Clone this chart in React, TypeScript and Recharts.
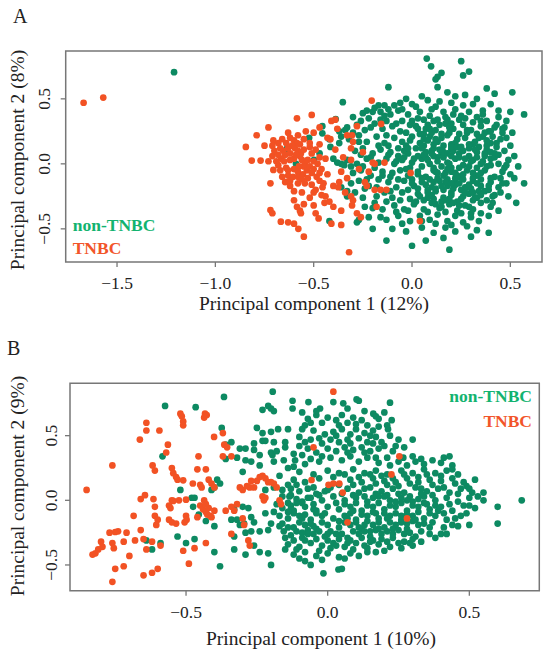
import React from "react";
import { ScatterChart, Scatter, XAxis, YAxis, ReferenceArea } from "recharts";

// ---------- Panel A data (PC1 12%, PC2 8%) ----------
const nonTnbcA: [number, number][] = [
  [-1.21, 0.705],
  [-0.352, 0.474], [-0.388, 0.345], [-0.456, 0.29], [-0.456, 0.235], [-0.523, 0.2], [-0.637, 0.116],
  [-0.42, 0.19], [-0.415, 0.13], [-0.47, 0.08], [-0.498, 0.03], [-0.59, 0.0], [-0.37, 0.25], [-0.36, 0.21],
  [-0.37, 0.16], [-0.34, 0.26], [-0.4, 0.04], [-0.38, 0.01], [-0.36, 0.0], [-0.345, -0.01], [-0.36, -0.18],
  [-0.33, -0.21], [-0.33, -0.25], [-0.42, -0.44],
  [0.075, 0.81], [0.25, 0.79], [0.097, 0.75], [0.29, 0.71], [0.26, 0.68], [0.15, 0.7], [0.13, 0.67], [0.12, 0.65],
  [0.13, 0.59], [-0.12, 0.59], [0.38, 0.58], [0.42, 0.54], [0.51, 0.55], [0.5, 0.4], [0.57, 0.38], [0.47, 0.28],
  [0.51, 0.24], [0.57, -0.15], [0.53, -0.3], [0.49, -0.25], [0.52, -0.11], [0.19, -0.66], [0.07, -0.59],
  [0.0, -0.63], [-0.13, -0.59], [-0.2, -0.5], [0.16, -0.57], [0.3, -0.56], [0.39, -0.53], [-0.27, -0.43], [-0.28, -0.45],
  [0.18, 0.55], [0.22, 0.52], [0.05, 0.52], [0.27, 0.53], [0.33, 0.5], [0.31, 0.46], [0.4, 0.46], [0.36, 0.41],
  [0.44, 0.41], [0.08, 0.49], [0.14, 0.48], [0.2, 0.47], [0.26, 0.45], [-0.03, 0.5], [-0.09, 0.45], [-0.14, 0.45],
  [-0.17, 0.45], [-0.06, 0.47], [0.0, 0.46], [-0.2, 0.4], [0.12, 0.44], [0.02, 0.44],
  [-0.3, 0.36], [-0.25, 0.39], [-0.22, 0.35], [-0.16, 0.4], [-0.11, 0.38], [-0.07, 0.41], [-0.02, 0.38], [0.04, 0.4],
  [0.09, 0.37], [0.16, 0.4], [0.21, 0.38], [0.24, 0.34], [0.29, 0.4], [0.33, 0.36], [0.38, 0.33], [0.44, 0.36],
  [0.48, 0.33], [0.06, 0.34], [-0.05, 0.33], [-0.13, 0.33],
  [-0.33, 0.28], [-0.28, 0.3], [-0.24, 0.26], [-0.19, 0.31], [-0.15, 0.27], [-0.1, 0.29], [-0.06, 0.25], [-0.01, 0.3],
  [0.03, 0.27], [0.08, 0.3], [0.12, 0.26], [0.17, 0.31], [0.21, 0.27], [0.26, 0.3], [0.3, 0.26], [0.35, 0.29],
  [0.39, 0.25], [0.43, 0.3], [0.46, 0.24], [0.41, 0.21],
  [-0.32, 0.19], [-0.27, 0.22], [-0.23, 0.17], [-0.18, 0.21], [-0.14, 0.16], [-0.09, 0.2], [-0.05, 0.17], [0.0, 0.21],
  [0.04, 0.16], [0.09, 0.21], [0.13, 0.17], [0.18, 0.22], [0.22, 0.16], [0.27, 0.2], [0.31, 0.15], [0.36, 0.21],
  [0.4, 0.16], [0.45, 0.19], [0.5, 0.14], [0.48, 0.2],
  [-0.29, 0.1], [-0.25, 0.12], [-0.2, 0.08], [-0.16, 0.11], [-0.11, 0.09], [-0.07, 0.12], [-0.02, 0.08], [0.02, 0.12],
  [0.07, 0.09], [0.11, 0.12], [0.15, 0.08], [0.2, 0.11], [0.24, 0.08], [0.29, 0.12], [0.33, 0.09], [0.38, 0.11],
  [0.42, 0.08], [0.47, 0.1], [0.52, 0.06],
  [-0.33, 0.03], [-0.28, 0.0], [-0.23, 0.04], [-0.17, 0.01], [-0.13, 0.04], [-0.09, 0.0], [-0.04, 0.05], [0.0, 0.01],
  [0.05, 0.04], [0.09, 0.0], [0.13, 0.05], [0.18, 0.01], [0.22, 0.04], [0.26, -0.01], [0.31, 0.03], [0.35, 0.0],
  [0.4, 0.04], [0.44, 0.0], [0.49, 0.03], [0.54, -0.02],
  [-0.3, -0.07], [-0.26, -0.05], [-0.21, -0.09], [-0.15, -0.06], [-0.11, -0.1], [-0.06, -0.05], [-0.02, -0.09],
  [0.03, -0.06], [0.07, -0.1], [0.11, -0.05], [0.16, -0.09], [0.2, -0.06], [0.24, -0.1], [0.28, -0.05], [0.33, -0.09],
  [0.37, -0.05], [0.42, -0.1], [0.46, -0.06], [0.5, -0.08],
  [-0.31, -0.15], [-0.27, -0.13], [-0.22, -0.17], [-0.12, -0.14], [-0.08, -0.18], [-0.04, -0.13], [0.01, -0.17],
  [0.05, -0.14], [0.1, -0.18], [0.14, -0.13], [0.18, -0.17], [0.22, -0.14], [0.27, -0.18], [0.31, -0.13], [0.35, -0.17],
  [0.4, -0.14], [0.44, -0.18], [0.48, -0.15],
  [-0.29, -0.22], [-0.25, -0.26], [-0.18, -0.25], [-0.14, -0.22], [-0.1, -0.26], [-0.05, -0.22], [-0.01, -0.27],
  [0.03, -0.23], [0.08, -0.26], [0.12, -0.21], [0.16, -0.26], [0.2, -0.22], [0.25, -0.27], [0.29, -0.23], [0.33, -0.26],
  [0.37, -0.21], [0.41, -0.25], [0.45, -0.22],
  [-0.24, -0.33], [-0.19, -0.3], [-0.15, -0.35], [-0.09, -0.32], [-0.04, -0.35], [0.01, -0.31], [0.06, -0.35],
  [0.1, -0.3], [0.14, -0.34], [0.19, -0.31], [0.23, -0.36], [0.27, -0.32], [0.31, -0.35], [0.35, -0.3], [0.4, -0.33],
  [0.44, -0.36],
  [-0.22, -0.41], [-0.13, -0.43], [-0.07, -0.4], [-0.01, -0.44], [0.04, -0.4], [0.09, -0.43], [0.13, -0.39],
  [0.18, -0.44], [0.22, -0.4], [0.26, -0.45], [0.3, -0.41], [0.34, -0.44], [0.39, -0.4],
  [-0.1, -0.5], [-0.03, -0.52], [0.05, -0.49], [0.11, -0.53], [0.17, -0.49], [0.22, -0.52], [0.28, -0.48], [0.33, -0.51],
  [0.0, 0.33], [0.11, 0.33], [0.18, 0.34], [0.27, 0.35], [0.31, 0.32],
  [-0.03, 0.24], [0.06, 0.23], [0.1, 0.24], [0.15, 0.23], [0.19, 0.24], [0.24, 0.23], [0.28, 0.24], [0.33, 0.23], [0.37, 0.24],
  [-0.12, 0.14], [-0.03, 0.14], [0.06, 0.14], [0.11, 0.15], [0.16, 0.14], [0.2, 0.15], [0.25, 0.13], [0.29, 0.15],
  [0.34, 0.13], [0.38, 0.14], [0.43, 0.13],
  [-0.07, 0.06], [0.03, 0.06], [0.07, 0.05], [0.11, 0.06], [0.16, 0.05], [0.2, 0.06], [0.24, 0.05], [0.29, 0.06],
  [0.33, 0.05], [0.37, 0.06], [0.42, 0.05],
  [-0.19, -0.03], [-0.01, -0.03], [0.05, -0.02], [0.11, -0.03], [0.15, -0.02], [0.2, -0.03], [0.24, -0.03],
  [0.29, -0.02], [0.33, -0.03], [0.38, -0.02], [0.47, -0.03],
  [-0.17, -0.12], [0.0, -0.12], [0.05, -0.11], [0.09, -0.12], [0.13, -0.11], [0.18, -0.12], [0.22, -0.11],
  [0.26, -0.12], [0.31, -0.11], [0.35, -0.12], [0.4, -0.11],
  [-0.02, -0.2], [0.03, -0.19], [0.08, -0.2], [0.12, -0.19], [0.16, -0.2], [0.21, -0.19], [0.25, -0.2], [0.3, -0.19],
  [0.34, -0.21], [0.39, -0.2],
  [0.06, -0.28], [0.11, -0.27], [0.15, -0.29], [0.19, -0.27], [0.23, -0.29], [0.31, -0.28], [0.38, -0.28],
  [0.08, -0.37], [0.17, -0.37], [0.25, -0.38], [0.3, -0.38],
  [0.02, 0.29], [0.06, 0.19], [0.1, 0.1], [0.13, 0.02], [0.17, -0.07], [0.22, -0.16], [0.26, -0.25], [0.29, -0.33],
  [0.03, -0.08], [0.07, -0.16], [0.1, -0.24], [0.15, -0.33], [0.19, 0.28], [0.23, 0.19], [0.26, 0.1], [0.3, 0.02],
  [0.35, -0.07], [0.39, -0.17], [0.42, -0.24], [0.05, 0.12], [0.08, 0.03], [0.12, -0.06], [0.17, -0.14], [0.2, -0.24],
  [0.24, -0.32], [0.28, 0.26], [0.32, 0.17], [0.37, 0.08], [0.4, -0.01], [0.45, -0.11], [0.04, -0.25], [0.07, 0.27],
  [0.12, 0.19], [0.16, 0.09], [0.19, 0.0], [0.23, -0.09], [0.28, -0.18], [0.32, -0.26], [0.35, 0.33], [0.4, 0.25],
  [0.43, 0.16], [-0.01, 0.18], [-0.04, 0.1], [-0.08, 0.02], [-0.1, -0.07], [-0.13, 0.22], [-0.17, 0.14], [-0.21, 0.05],
  [-0.25, -0.02], [-0.18, -0.18], [-0.23, -0.12], [-0.27, 0.17], [-0.21, 0.28], [-0.16, 0.34], [-0.12, 0.42], [-0.05, 0.42],
  [0.1, 0.42], [0.17, 0.36], [0.22, 0.42], [0.03, 0.35], [0.14, 0.3], [0.25, 0.37], [0.36, 0.38], [0.46, 0.27],
  [0.44, 0.07], [0.48, -0.01], [0.46, -0.15], [0.41, -0.3], [0.35, -0.38], [0.2, -0.47], [0.12, -0.46], [0.05, -0.44],
  [-0.05, -0.46], [-0.08, -0.37], [-0.13, -0.29], [-0.06, -0.28], [-0.02, -0.36], [0.02, -0.29], [0.0, -0.15], [-0.03, -0.04],
  [0.01, 0.04], [-0.02, 0.12], [0.04, 0.23], [0.08, 0.18], [0.15, 0.2], [0.21, 0.1], [0.27, 0.04], [0.31, -0.07],
  [0.13, -0.07], [0.18, -0.04], [0.22, -0.07], [0.26, -0.08], [0.14, 0.11], [0.2, 0.13], [0.23, 0.13], [0.32, 0.11],
  [0.11, -0.14], [0.15, -0.17], [0.2, -0.15], [0.24, -0.15], [0.29, -0.16], [0.33, -0.15], [0.27, -0.22], [0.31, -0.22],
  [0.35, -0.24], [0.08, -0.22], [0.12, -0.31], [0.17, -0.28], [0.21, -0.3], [0.06, 0.07], [0.1, 0.08], [0.18, 0.08],
  [0.36, 0.02], [0.4, 0.09], [0.34, 0.2], [0.38, 0.18], [0.42, 0.28], [0.09, 0.27], [0.13, 0.34], [0.2, 0.31],
  [-0.26, 0.33], [-0.23, 0.41], [-0.19, 0.43], [-0.14, 0.37], [-0.08, 0.31], [-0.3, 0.24], [-0.26, 0.07], [-0.31, -0.02],
  [-0.24, -0.19], [-0.2, -0.34], [-0.16, -0.41], [-0.11, -0.21], [-0.07, -0.12], [-0.05, 0.03], [-0.15, -0.09], [-0.12, 0.07],
];

const tnbcA: [number, number][] = [
  [-1.67, 0.47], [-1.57, 0.51],
  [-0.845, 0.13], [-0.79, 0.22], [-0.73, 0.28], [-0.815, 0.025], [-0.77, 0.025], [-0.75, 0.14], [-0.705, 0.18],
  [-0.73, 0.02], [-0.71, 0.06], [-0.705, -0.047], [-0.72, -0.15], [-0.72, -0.355], [-0.71, -0.38], [-0.667, -0.445],
  [-0.63, -0.45], [-0.6, -0.46], [-0.578, -0.5], [-0.55, -0.56], [-0.585, 0.35], [-0.51, 0.376], [-0.54, 0.25],
  [-0.63, 0.24], [-0.62, 0.2], [-0.66, 0.19], [-0.68, 0.16], [-0.71, 0.14], [-0.6, 0.18], [-0.585, 0.16], [-0.61, 0.14],
  [-0.595, 0.12], [-0.55, 0.19], [-0.655, 0.1], [-0.645, 0.07], [-0.665, 0.04], [-0.65, 0.02], [-0.69, 0.02],
  [-0.68, -0.01], [-0.62, 0.03], [-0.6, 0.04], [-0.58, 0.1], [-0.565, 0.08], [-0.56, 0.03], [-0.545, 0.0],
  [-0.53, 0.03], [-0.49, 0.11], [-0.47, 0.05], [-0.55, -0.02], [-0.535, -0.05], [-0.51, -0.07], [-0.485, -0.1],
  [-0.63, -0.09], [-0.605, -0.1], [-0.58, -0.1], [-0.555, -0.08], [-0.66, -0.1], [-0.645, -0.14], [-0.58, -0.15],
  [-0.545, -0.15], [-0.51, -0.16], [-0.62, -0.17], [-0.6, -0.21], [-0.49, -0.2], [-0.455, -0.18], [-0.44, -0.25],
  [-0.445, -0.3], [-0.42, -0.29], [-0.4, -0.17], [-0.375, -0.18], [-0.37, -0.14], [-0.6, -0.28], [-0.585, -0.33],
  [-0.57, -0.36], [-0.565, -0.38], [-0.55, -0.31], [-0.5, -0.32], [-0.49, -0.38], [-0.475, -0.42], [-0.4, -0.33],
  [-0.41, -0.46], [-0.36, -0.47], [-0.32, -0.68], [-0.39, 0.34], [-0.41, 0.33], [-0.43, 0.2], [-0.415, 0.19],
  [-0.39, 0.11], [-0.205, 0.487], [-0.28, 0.29], [-0.157, 0.307], [-0.31, 0.12], [-0.31, 0.03], [-0.2, 0.01],
  [-0.19, 0.0], [-0.3, 0.17], [-0.305, 0.22], [-0.24, -0.14], [-0.23, -0.17], [-0.19, -0.2], [-0.16, -0.2],
  [-0.13, -0.2], [-0.31, -0.25], [-0.305, -0.32], [-0.3, -0.28], [-0.28, -0.38], [-0.26, -0.41], [-0.18, -0.33],
  [-0.007, -0.07], [0.04, -0.44], [-0.14, 0.01],
  [-0.62, 0.08], [-0.57, 0.06], [-0.52, -0.02], [-0.5, 0.02], [-0.46, -0.04], [-0.44, 0.04], [-0.43, -0.08],
  [-0.47, 0.15], [-0.52, 0.13], [-0.64, -0.03], [-0.6, -0.04], [-0.575, -0.02], [-0.53, -0.11], [-0.47, -0.13],
  [-0.46, -0.24], [-0.52, -0.26], [-0.56, -0.22], [-0.67, 0.12], [-0.35, 0.05], [-0.36, -0.06], [-0.34, -0.22],
  [-0.33, 0.22], [-0.25, 0.09], [-0.27, -0.04], [-0.38, 0.27], [-0.47, 0.28], [-0.5, 0.24], [-0.36, -0.36],
  [-0.22, -0.06], [-0.33, -0.11],
  [-0.7, 0.1], [-0.68, 0.07], [-0.63, 0.12], [-0.59, 0.07], [-0.55, 0.11], [-0.51, 0.08], [-0.48, 0.0],
  [-0.63, -0.05], [-0.58, -0.06], [-0.56, -0.12], [-0.5, -0.04], [-0.47, -0.07], [-0.62, -0.13], [-0.52, 0.16],
  [-0.57, 0.15], [-0.64, 0.16], [-0.58, 0.22], [-0.67, -0.05], [-0.45, -0.15], [-0.5, -0.22],
];

// ---------- Panel B data (PC1 10%, PC2 9%) ----------
const nonTnbcB: [number, number][] = [
  [-0.366, 0.8], [-0.574, 0.73], [-0.466, 0.72], [-0.194, 0.84], [-0.23, 0.7], [-0.21, 0.73], [-0.2, 0.71],
  [-0.19, 0.69], [-0.124, 0.77], [-0.124, 0.71], [-0.374, 0.56], [-0.25, 0.56], [-0.23, 0.52], [-0.2, 0.53],
  [-0.175, 0.55], [-0.14, 0.55], [-0.09, 0.55], [-0.36, 0.43], [-0.34, 0.45], [-0.31, 0.4], [-0.29, 0.4],
  [-0.26, 0.44], [-0.23, 0.46], [-0.22, 0.46], [-0.19, 0.45], [-0.15, 0.45], [-0.1, 0.42], [-0.583, 0.34],
  [-0.36, 0.32], [-0.32, 0.33], [-0.29, 0.31], [-0.26, 0.39], [-0.2, 0.37], [-0.195, 0.35], [-0.18, 0.38],
  [-0.155, 0.31], [-0.115, 0.31], [-0.14, 0.25], [-0.12, 0.26], [-0.08, 0.28], [-0.39, 0.16], [-0.38, 0.13],
  [-0.4, 0.1], [-0.41, 0.08], [-0.52, 0.08], [-0.48, 0.02], [-0.47, 0.02], [-0.475, -0.05], [-0.455, -0.11],
  [-0.43, -0.16], [-0.4, -0.2], [-0.53, -0.28], [-0.62, -0.38], [-0.64, -0.31], [-0.59, -0.33], [-0.5, -0.33],
  [-0.47, -0.3], [-0.4, -0.4], [-0.38, -0.51], [-0.34, -0.15], [-0.32, -0.15], [-0.31, -0.19], [-0.295, -0.18],
  [-0.27, -0.13], [-0.26, -0.17], [-0.33, -0.07], [-0.3, -0.05], [-0.28, -0.06], [-0.33, -0.28], [-0.33, -0.38],
  [-0.29, -0.42], [-0.26, -0.35], [-0.24, -0.4], [-0.21, -0.41], [-0.2, -0.5], [-0.29, -0.25], [-0.27, -0.24],
  [-0.24, -0.24], [-0.21, -0.23], [-0.22, -0.1], [-0.19, -0.09], [-0.17, -0.12], [-0.2, -0.18], [-0.17, -0.2],
  [-0.14, -0.21], [-0.155, -0.24], [-0.22, 0.08], [-0.19, 0.1], [-0.16, 0.08], [-0.13, 0.09], [-0.135, 0.03],
  [-0.11, 0.01], [-0.09, -0.01], [-0.07, 0.02],
  [-0.068, 0.76], [-0.027, 0.71], [0.02, 0.76], [0.055, 0.75], [0.102, 0.78], [0.11, 0.77], [0.22, 0.755],
  [0.161, 0.67], [0.17, 0.65], [0.18, 0.63], [0.2, 0.68], [0.226, 0.62], [0.21, 0.58], [0.213, 0.55], [0.3, 0.47],
  [0.267, 0.33], [0.41, 0.33], [0.43, 0.34],
  [-0.09, 0.68], [-0.07, 0.63], [-0.04, 0.66], [-0.02, 0.6], [0.0, 0.64], [0.03, 0.62], [0.05, 0.66], [0.07, 0.6],
  [0.09, 0.64], [0.12, 0.62], [0.14, 0.58], [0.16, 0.54], [0.13, 0.52], [0.1, 0.55], [0.08, 0.51], [0.05, 0.55],
  [0.02, 0.53], [-0.01, 0.51], [-0.05, 0.54], [-0.08, 0.58], [-0.1, 0.49], [-0.06, 0.47], [-0.02, 0.44], [0.01, 0.47],
  [0.04, 0.45], [0.07, 0.47], [0.11, 0.48], [0.14, 0.45], [0.17, 0.49], [0.19, 0.45], [0.22, 0.5], [0.25, 0.47],
  [0.24, 0.42], [0.18, 0.4], [0.15, 0.38], [0.12, 0.41], [0.09, 0.39], [0.06, 0.41], [0.03, 0.38], [0.0, 0.4],
  [-0.04, 0.37], [-0.07, 0.4], [-0.09, 0.35], [-0.06, 0.32], [-0.03, 0.3], [0.01, 0.33], [0.05, 0.31], [0.08, 0.34],
  [0.11, 0.3], [0.14, 0.33], [0.18, 0.29], [0.21, 0.33], [0.25, 0.3], [0.28, 0.27], [0.31, 0.3], [0.34, 0.28],
  [0.37, 0.31], [0.4, 0.29], [0.44, 0.27],
  [-0.1, 0.22], [-0.05, 0.2], [0.0, 0.23], [0.04, 0.21], [0.09, 0.24], [0.13, 0.21], [0.17, 0.23], [0.21, 0.2],
  [0.26, 0.23], [0.3, 0.21], [0.34, 0.24], [0.38, 0.21], [0.42, 0.23], [0.46, 0.2],
  [-0.12, 0.16], [-0.08, 0.14], [-0.03, 0.17], [0.08, 0.16], [0.12, 0.14], [0.16, 0.17], [0.2, 0.15], [0.24, 0.14],
  [0.28, 0.17], [0.32, 0.14], [0.36, 0.16], [0.4, 0.15], [0.44, 0.17], [0.48, 0.14], [0.52, 0.16],
  [-0.1, 0.07], [-0.05, 0.1], [-0.01, 0.07], [0.07, 0.09], [0.11, 0.06], [0.15, 0.1], [0.19, 0.07], [0.23, 0.09],
  [0.27, 0.06], [0.31, 0.1], [0.35, 0.07], [0.39, 0.09], [0.43, 0.06], [0.47, 0.09], [0.51, 0.06], [0.55, 0.06],
  [-0.14, -0.02], [-0.06, 0.02], [-0.02, 0.0], [0.02, 0.03], [0.06, 0.0], [0.1, 0.02], [0.14, -0.01], [0.18, 0.03],
  [0.22, 0.0], [0.26, 0.02], [0.3, -0.01], [0.34, 0.03], [0.38, 0.0], [0.42, 0.02], [0.46, -0.01], [0.5, 0.02],
  [0.55, 0.0], [0.685, 0.0],
  [-0.16, -0.06], [-0.12, -0.08], [-0.08, -0.05], [-0.04, -0.08], [0.0, -0.05], [0.04, -0.07], [0.08, -0.05],
  [0.12, -0.08], [0.16, -0.05], [0.2, -0.07], [0.24, -0.05], [0.28, -0.08], [0.32, -0.05], [0.36, -0.07], [0.4, -0.05],
  [0.44, -0.08], [0.48, -0.04], [0.5, -0.04], [0.6, -0.05],
  [-0.14, -0.14], [-0.1, -0.12], [-0.06, -0.15], [-0.02, -0.12], [0.02, -0.14], [0.06, -0.12], [0.1, -0.15],
  [0.14, -0.12], [0.18, -0.14], [0.22, -0.12], [0.26, -0.15], [0.3, -0.12], [0.34, -0.14], [0.38, -0.12],
  [0.42, -0.15], [0.47, -0.12], [0.6, -0.18],
  [-0.12, -0.21], [-0.08, -0.19], [-0.04, -0.22], [0.0, -0.19], [0.04, -0.21], [0.08, -0.19], [0.12, -0.22],
  [0.16, -0.19], [0.2, -0.21], [0.24, -0.19], [0.28, -0.22], [0.32, -0.19], [0.36, -0.21], [0.44, -0.19], [0.5, -0.19],
  [-0.13, -0.27], [-0.09, -0.29], [-0.05, -0.26], [-0.01, -0.28], [0.03, -0.26], [0.07, -0.29], [0.11, -0.26],
  [0.15, -0.28], [0.19, -0.26], [0.23, -0.29], [0.27, -0.26], [0.31, -0.28], [0.36, -0.26], [0.4, -0.26],
  [-0.14, -0.34], [-0.1, -0.36], [-0.06, -0.33], [-0.02, -0.35], [0.02, -0.33], [0.06, -0.36], [0.1, -0.33],
  [0.14, -0.37], [0.18, -0.34], [0.22, -0.36], [0.27, -0.32], [0.3, -0.35],
  [-0.12, -0.42], [-0.08, -0.4], [-0.04, -0.43], [0.0, -0.41], [0.04, -0.44], [0.08, -0.41], [0.14, -0.4], [0.2, -0.39],
  [-0.08, -0.47], [-0.015, -0.565], [0.038, -0.535], [0.05, -0.53], [-0.06, -0.5], [0.26, -0.37], [0.29, -0.33],
  [-0.13, 0.04], [-0.04, 0.05], [0.09, 0.04], [0.13, 0.03], [0.17, 0.05], [0.21, 0.04], [0.25, 0.05], [0.29, 0.03],
  [0.33, 0.05], [0.37, 0.04],
  [-0.13, -0.04], [-0.09, -0.02], [-0.05, -0.03], [0.06, -0.03], [0.1, -0.02], [0.14, -0.04], [0.18, -0.02],
  [0.22, -0.04], [0.26, -0.02], [0.3, -0.04], [0.34, -0.02], [0.38, -0.04],
  [-0.12, -0.1], [-0.08, -0.11], [-0.04, -0.1], [0.08, -0.1], [0.12, -0.11], [0.16, -0.09], [0.2, -0.1],
  [0.24, -0.1], [0.28, -0.11], [0.32, -0.09],
  [-0.1, -0.17], [-0.06, -0.18], [-0.02, -0.17], [0.06, -0.17], [0.1, -0.17], [0.14, -0.16], [0.18, -0.17],
  [0.22, -0.17], [0.26, -0.17], [0.3, -0.16],
  [-0.11, -0.24], [-0.07, -0.23], [-0.03, -0.24], [0.01, -0.24], [0.09, -0.24], [0.13, -0.24], [0.17, -0.23], [0.21, -0.24],
  [-0.12, -0.31], [-0.08, -0.31], [-0.04, -0.3], [0.0, -0.31], [0.04, -0.3], [0.08, -0.31], [0.16, -0.31],
  [-0.15, -0.29], [-0.11, -0.38], [-0.07, -0.26], [-0.03, -0.39], [0.01, -0.37], [0.05, -0.26], [0.09, -0.38], [0.12, -0.29],
  [-0.16, -0.18], [-0.13, -0.07], [-0.09, -0.14], [-0.05, -0.07], [-0.01, -0.1], [0.03, -0.02], [0.07, -0.14], [0.11, -0.21],
  [0.15, -0.24], [0.19, -0.3], [0.23, -0.26], [0.25, -0.33], [0.3, -0.3], [0.33, -0.24], [0.37, -0.17], [0.41, -0.21],
  [0.45, -0.14], [0.43, -0.03], [0.46, 0.05], [0.49, 0.11], [0.45, 0.13], [0.41, 0.1], [0.37, 0.12], [0.33, 0.09],
  [0.29, 0.13], [0.25, 0.11], [0.21, 0.12], [0.17, 0.13], [0.13, 0.09], [0.09, 0.12], [0.05, 0.05], [0.01, 0.1],
  [-0.03, 0.04], [-0.07, 0.09], [-0.11, 0.12], [-0.16, 0.03], [-0.18, -0.03], [0.02, 0.18], [0.06, 0.2], [0.11, 0.18],
  [0.15, 0.2], [0.19, 0.19], [0.23, 0.17], [0.27, 0.2], [0.32, 0.18], [0.35, 0.2], [0.4, 0.19], [0.44, 0.24],
  [0.5, 0.09], [0.53, 0.03], [0.52, -0.06], [0.49, -0.1], [0.46, -0.2], [0.42, -0.26], [0.38, -0.29], [0.33, -0.32],
  [0.17, -0.4], [0.11, -0.43], [0.06, -0.45], [-0.02, -0.46], [-0.1, -0.45], [-0.15, -0.38], [-0.14, -0.09], [-0.11, -0.02],
  [0.0, 0.08], [0.04, 0.12], [0.16, 0.02], [0.2, 0.03], [0.24, -0.01], [0.28, 0.0], [0.32, 0.01], [0.35, -0.03],
  [0.39, -0.08], [0.41, -0.1], [0.36, -0.1], [0.26, -0.12], [0.21, -0.14], [0.17, -0.1], [0.13, -0.19], [0.09, -0.08],
  [0.04, -0.16], [0.0, -0.26], [-0.05, -0.2], [-0.09, -0.25], [0.03, -0.35], [0.07, -0.33], [0.13, -0.35], [0.21, -0.32],
  [0.18, -0.22], [0.23, -0.22], [0.28, -0.18], [0.31, -0.15], [0.34, -0.18], [0.29, -0.25], [0.25, -0.23], [0.15, -0.32],
  [-0.04, 0.69], [0.07, 0.71], [0.13, 0.69], [0.04, 0.58], [-0.06, 0.6], [0.1, 0.59], [0.18, 0.57], [0.15, 0.5],
  [0.2, 0.42], [0.23, 0.38], [0.27, 0.41], [0.16, 0.44], [0.08, 0.44], [0.03, 0.5], [-0.03, 0.48], [-0.08, 0.45],
  [-0.12, 0.36], [-0.02, 0.34], [0.07, 0.37], [0.13, 0.37], [0.17, 0.33], [0.22, 0.27], [0.3, 0.34], [0.33, 0.32],
  [-0.15, 0.41], [-0.19, 0.3], [-0.24, 0.35], [-0.27, 0.3], [-0.17, 0.19], [-0.14, 0.12], [-0.24, 0.27], [-0.3, 0.22],
];

const tnbcB: [number, number][] = [
  [-0.851, 0.08], [-0.76, 0.27], [-0.64, 0.6], [-0.64, 0.54], [-0.594, 0.54], [-0.663, 0.47], [-0.52, 0.67],
  [-0.515, 0.65], [-0.51, 0.61], [-0.51, 0.58], [-0.433, 0.67], [-0.436, 0.64], [-0.427, 0.66], [-0.564, 0.43],
  [-0.57, 0.37], [-0.618, 0.27], [-0.61, 0.23], [-0.55, 0.25], [-0.545, 0.21], [-0.535, 0.18], [-0.53, 0.16],
  [-0.51, 0.155], [-0.401, 0.49], [-0.37, 0.52], [-0.365, 0.43], [-0.355, 0.41], [-0.456, 0.34], [-0.46, 0.24],
  [-0.43, 0.24], [-0.476, 0.13], [-0.45, 0.12], [-0.445, 0.1], [-0.42, 0.16], [-0.41, 0.13], [-0.4, 0.1],
  [-0.37, 0.34], [-0.34, 0.34], [-0.66, 0.01], [-0.645, 0.04], [-0.615, 0.01], [-0.61, -0.05], [-0.55, 0.0],
  [-0.545, -0.005], [-0.525, 0.0], [-0.5, 0.005], [-0.56, -0.04], [-0.555, -0.06], [-0.685, -0.12], [-0.61, -0.12],
  [-0.6, -0.15], [-0.605, -0.19], [-0.56, -0.15], [-0.55, -0.17], [-0.535, -0.18], [-0.5, -0.12], [-0.498, -0.15],
  [-0.505, -0.17], [-0.45, -0.04], [-0.44, -0.07], [-0.43, -0.09], [-0.425, -0.11], [-0.415, -0.12], [-0.41, -0.13],
  [-0.42, -0.06], [-0.4, -0.08], [-0.436, 0.0], [-0.43, -0.03], [-0.46, -0.13], [-0.36, -0.08], [-0.34, -0.05],
  [-0.33, -0.08], [-0.32, -0.03], [-0.31, 0.1], [-0.3, 0.08], [-0.285, 0.11], [-0.275, 0.1], [-0.26, 0.1],
  [-0.27, 0.15], [-0.25, 0.15], [-0.24, 0.18], [-0.23, 0.19], [-0.22, 0.17], [-0.21, 0.14], [-0.2, 0.14],
  [-0.19, 0.13], [-0.18, 0.1], [-0.23, 0.03], [-0.225, 0.0], [-0.22, 0.02], [-0.17, 0.0], [-0.165, -0.03],
  [-0.3, -0.14], [-0.295, -0.19], [-0.28, -0.31], [-0.275, -0.35], [-0.34, -0.26], [-0.43, -0.33], [-0.47, -0.37],
  [-0.51, -0.39], [-0.49, -0.49], [-0.59, -0.35], [-0.62, -0.32], [-0.65, -0.3], [-0.68, -0.31], [-0.71, -0.25],
  [-0.72, -0.32], [-0.74, -0.24], [-0.75, -0.245], [-0.77, -0.25], [-0.8, -0.32], [-0.795, -0.36], [-0.81, -0.38],
  [-0.82, -0.41], [-0.83, -0.42], [-0.76, -0.33], [-0.755, -0.37], [-0.7, -0.43], [-0.75, -0.53], [-0.72, -0.51],
  [-0.65, -0.58], [-0.62, -0.56], [-0.6, -0.53], [-0.76, -0.63], [-0.66, -0.23], [-0.64, -0.38],
  [0.02, 0.84], [0.253, 0.34], [0.225, 0.2], [-0.057, 0.157], [0.003, 0.12], [0.02, 0.13], [0.041, 0.13],
  [0.053, 0.06], [0.07, -0.17], [0.28, -0.14], [-0.05, 0.41],
];

const ticksA_x = [-1.5, -1.0, -0.5, 0.0, 0.5];
const ticksA_y = [-0.5, 0.0, 0.5];
const ticksB_x = [-0.5, 0.0, 0.5];
const ticksB_y = [-0.5, 0.0, 0.5];

const GREEN = "#0d8a62";
const ORANGE = "#f25224";
const LEG_GREEN = "#12b370";
const LEG_ORANGE = "#f2552a";
const FONT = "'Liberation Serif', 'DejaVu Serif', serif";
const TICK_FS = 17.5;
const TITLE_FS = 19.5;

const toXY = (arr: [number, number][]) => arr.map(([x, y]) => ({ x, y }));
const fmt = (v: number) => v.toFixed(1).replace("-", "\u2212");

const dot = (color: string) => (p: any) => <circle cx={p.cx} cy={p.cy} r={3.35} fill={color} />;

const makeXTick = (off: number) => (props: any) => {
  const { x, y, payload } = props;
  return (
    <text x={x} y={y + off} textAnchor="middle" fontFamily={FONT} fontSize={TICK_FS} fill="#222">
      {fmt(payload.value)}
    </text>
  );
};

const makeYTick = (gap: number) => (props: any) => {
  const { x, y, payload } = props;
  const bx = x + 5 - gap;
  return (
    <text transform={`translate(${bx},${y}) rotate(-90)`} textAnchor="middle" fontFamily={FONT} fontSize={TICK_FS} fill="#222">
      {fmt(payload.value)}
    </text>
  );
};

interface PanelProps {
  top: number;
  height: number;
  plotLeft: number;
  plotRight: number;
  plotTop: number;
  plotBottom: number;
  xDomain: [number, number];
  yDomain: [number, number];
  xTicks: number[];
  yTicks: number[];
  green: [number, number][];
  orange: [number, number][];
  yGap: number;
  xOff: number;
}

const Panel = (p: PanelProps) => {
  const W = 550;
  return (
    <div style={{ position: "absolute", left: 0, top: p.top }}>
      <ScatterChart
        width={W}
        height={p.height}
        margin={{ top: p.plotTop, right: W - p.plotRight, left: 0, bottom: 0 }}
      >
        <XAxis
          type="number"
          dataKey="x"
          domain={p.xDomain}
          allowDataOverflow
          ticks={p.xTicks}
          interval={0}
          height={p.height - p.plotBottom}
          axisLine={false}
          tickLine={{ stroke: "#777", strokeWidth: 1.3 }}
          tickSize={5}
          tickMargin={0}
          tick={makeXTick(p.xOff)}
        />
        <YAxis
          type="number"
          dataKey="y"
          domain={p.yDomain}
          allowDataOverflow
          ticks={p.yTicks}
          interval={0}
          width={p.plotLeft}
          axisLine={false}
          tickLine={{ stroke: "#777", strokeWidth: 1.3 }}
          tickSize={5}
          tickMargin={0}
          tick={makeYTick(p.yGap)}
        />
        <Scatter data={toXY(p.green)} fill={GREEN} shape={dot(GREEN)} isAnimationActive={false} />
        <Scatter data={toXY(p.orange)} fill={ORANGE} shape={dot(ORANGE)} isAnimationActive={false} />
        <ReferenceArea
          x1={p.xDomain[0]}
          x2={p.xDomain[1]}
          y1={p.yDomain[0]}
          y2={p.yDomain[1]}
          fill="none"
          fillOpacity={0}
          stroke="#777"
          strokeWidth={1.5}
          ifOverflow="visible"
        />
      </ScatterChart>
    </div>
  );
};

export default function App() {
  return (
    <div style={{ position: "absolute", left: 0, top: 0, width: 550, height: 655, background: "#fff", overflow: "hidden" }}>
      <Panel
        top={0}
        height={330}
        plotLeft={65.7}
        plotRight={542}
        plotTop={51}
        plotBottom={262}
        xDomain={[-1.761, 0.661]}
        yDomain={[-0.755, 0.868]}
        xTicks={ticksA_x}
        yTicks={ticksA_y}
        green={nonTnbcA}
        orange={tnbcA}
        yGap={16}
        xOff={21.5}
      />
      <Panel
        top={330}
        height={325}
        plotLeft={70}
        plotRight={539.3}
        plotTop={53.3}
        plotBottom={260.7}
        xDomain={[-0.9096, 0.747]}
        yDomain={[-0.699, 0.905]}
        xTicks={ticksB_x}
        yTicks={ticksB_y}
        green={nonTnbcB}
        orange={tnbcB}
        yGap={13}
        xOff={22.6}
      />
      <svg width={550} height={655} style={{ position: "absolute", left: 0, top: 0, pointerEvents: "none" }}>
        <g fontFamily={FONT} fill="#222">
          <text x={13} y={23} fontSize={20}>A</text>
          <text x={7} y={355} fontSize={20}>B</text>
          <text x={314} y={310} fontSize={TITLE_FS} textAnchor="middle">Principal component 1 (12%)</text>
          <text transform="translate(24,160) rotate(-90)" fontSize={TITLE_FS} textAnchor="middle">Principal component 2 (8%)</text>
          <text x={321} y={645} fontSize={TITLE_FS} textAnchor="middle">Principal component 1 (10%)</text>
          <text transform="translate(24,486) rotate(-90)" fontSize={TITLE_FS} textAnchor="middle">Principal component 2 (9%)</text>
        </g>
        <g fontFamily={FONT} fontWeight="bold" fontSize={17.5}>
          <text x={72.7} y={231} fill={LEG_GREEN}>non-TNBC</text>
          <text x={72.7} y={254} fill={LEG_ORANGE}>TNBC</text>
          <text x={532} y={401.5} fill={LEG_GREEN} textAnchor="end">non-TNBC</text>
          <text x={532} y={426.5} fill={LEG_ORANGE} textAnchor="end">TNBC</text>
        </g>
      </svg>
    </div>
  );
}
